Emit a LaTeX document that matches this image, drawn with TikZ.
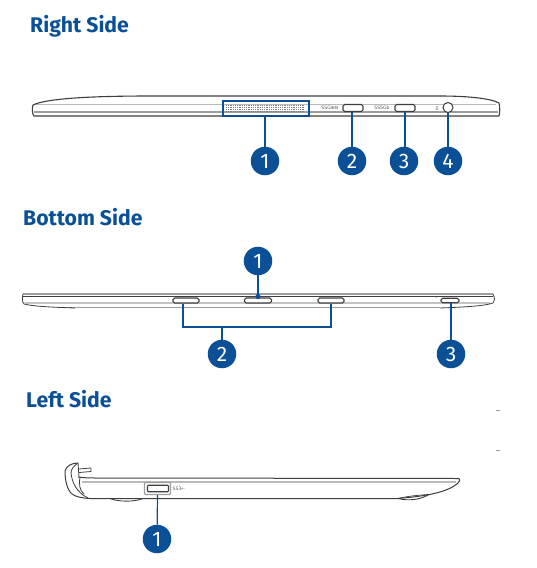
\documentclass[tikz,border=0pt]{standalone}
\usepackage{fontspec}
\setmainfont{Fira Sans}
\newfontfamily\symfont{DejaVu Sans}
\definecolor{asusblue}{HTML}{0B4F96}
\definecolor{bodyline}{HTML}{3E3E40}
\definecolor{softline}{HTML}{9C9DA0}
\tikzset{
  heading/.style={font=\fontsize{21.2}{24}\selectfont\bfseries, text=asusblue, anchor=base west, inner sep=0pt},
  badge/.style={circle, fill=asusblue, text=white, minimum size=28.5pt, inner sep=0pt, font=\fontsize{21}{24}\selectfont},
  lead/.style={draw=asusblue, line width=1.2pt},
  outline/.style={draw=bodyline, line width=1.1pt, line join=round},
  soft/.style={draw=softline, line width=1.2pt},
  port/.style={draw=bodyline, fill=white, rounded corners=1.6pt, line width=1.1pt, inner sep=0pt},
  tiny/.style={font=\symfont\fontsize{4.6}{5}\selectfont, text=black!65, inner sep=0pt},
}
\begin{document}
\begin{tikzpicture}[x=1pt,y=-1pt]
\useasboundingbox (0,0) rectangle (537,568);
% headings
\node[heading] (h1) at (30,32) {Right Side};
\node[heading] (h2) at (23,225.5) {Bottom Side};
\node[heading] (h3) at (26,407) {Left Side};

% --- Right side
\draw[soft, draw=softline!70] (36,104.5) -- (496,104.5);
\draw[soft] (34,112) -- (498,112);
\draw[outline] (34,116) .. controls (32,114) and (32,108) .. (33,105)
  .. controls (45,99) and (85,96) .. (150,96) -- (440,96)
  .. controls (465,96) and (490,98) .. (499,103)
  .. controls (500,107) and (500,112) .. (499,116) -- cycle;
\foreach \yy in {105.5,107.5,109.5,111.5}
  \draw[gray, line width=1.3pt, dash pattern=on 1pt off 0.8pt] (226,\yy) -- (305,\yy);
\node[draw=asusblue, line width=1.2pt, minimum width=86pt, minimum height=15pt, inner sep=0pt] (rspk) at (266,108.5) {};
\node[port, minimum width=20pt, minimum height=7pt] (rp2) at (353,108) {};
\node[port, minimum width=20pt, minimum height=7pt] (rp3) at (405,108) {};
\node[circle, draw=bodyline, fill=white, line width=1pt, minimum size=10pt, inner sep=0pt] (rjack) at (448,107.5) {};
\node[tiny] (t1) at (330,108) {SSG⊕⊟};
\node[tiny] (t2) at (382,108) {SS5Gb};
\node[tiny] (t3) at (437,108.5) {♁};
\node[badge] (r1) at (265,161) {1};
\node[badge] (r2) at (352,161) {2};
\node[badge] (r3) at (404,161) {3};
\node[badge] (r4) at (448,161) {4};
\draw[lead] (rspk.south -| r1) -- (r1);
\draw[lead] (rp2.south -| r2) -- (r2);
\draw[lead] (rp3.south) -- (rp3.south |- r3.north);
\draw[lead] (rjack) -- (r4);

% --- Bottom side
\draw[draw=softline, line width=1.4pt] (23,294) -- (493,294);
\draw[soft, draw=softline!60] (25,303) -- (490,303);
\draw[soft, line width=1.8pt] (60,307.5) -- (440,307.5);
\draw[outline] (23,296.5) -- (493,296.5);
\draw[outline, line width=0.8pt] (23,294) .. controls (22,298) and (22,302) .. (24,304)
  .. controls (32,306) and (45,307) .. (75,308);
\draw[outline, line width=0.8pt] (493,294) .. controls (495,298) and (495,301) .. (493,303)
  .. controls (485,306) and (465,307) .. (440,308);
\node[port, minimum width=26pt, minimum height=5pt] (bs1) at (186,300.5) {};
\node[port, minimum width=27pt, minimum height=5pt] (bs2) at (258,300.5) {};
\node[port, minimum width=26pt, minimum height=5pt] (bs3) at (331,300.5) {};
\node[port, minimum width=18pt, minimum height=4.5pt] (bs4) at (450,300.5) {};
\node[tiny, font=\symfont\fontsize{3}{3}\selectfont] (t4) at (436.5,298.5) {*};
\node[badge] (b1) at (258,261) {1};
\node[badge] (b2) at (222,354) {2};
\node[badge] (b3) at (451,354) {3};
\coordinate (bdot) at (258,296.5);
\coordinate (bl) at (183,327);
\coordinate (br) at (331,327);
\coordinate (bm) at (222,327);
\fill[asusblue] (bdot) circle (2.6pt);
\draw[lead] (b1) -- (bdot);
\draw[lead] (bl |- bs1.south) -- (bl) -- (br) -- (br |- bs3.south);
\draw[lead] (bm) -- (b2);
\draw[lead] (b3 |- bs4.south) -- (b3);

% --- Left side
\draw[soft, draw=softline!70] (82,482) -- (456,482);
\draw[outline, line width=1pt] (78,477) .. controls (85,478) and (90,478) .. (98,478)
  -- (459,478.5) .. controls (460,480) and (460,481) .. (458,483)
  .. controls (448,492) and (428,496) .. (398,498.5) -- (90,498.5);
\draw[outline, line width=0.9pt] (398,498.5) .. controls (408,501) and (420,500) .. (429,494.5);
\draw[outline, line width=0.7pt] (398,498.5) .. controls (408,496) and (420,495) .. (429,494.5);
\draw[outline, line width=0.9pt] (110,498.5) .. controls (118,502) and (135,502) .. (143,498.5);
% hinge
\draw[outline, line width=1pt] (78,463) .. controls (72,463) and (66,466) .. (65,471)
  .. controls (65,480) and (67,490) .. (72,494)
  .. controls (76,497) and (82,498) .. (90,498.5);
\draw[outline, line width=0.8pt] (78,463) .. controls (74,466) and (71,469) .. (71,473)
  .. controls (72,482) and (76,492) .. (88,498);
\draw[outline, line width=0.8pt] (80,477) .. controls (79,483) and (79,490) .. (84,494);
\draw[outline, line width=0.8pt] (78,463) -- (79,477);
\draw[outline, line width=0.8pt] (79,469) -- (91,468) -- (91,471.5) -- (79,472.5);
\node[draw=softline, fill=white, line width=1.1pt, minimum width=26pt, minimum height=12pt, rounded corners=1pt, inner sep=0pt] (lbox) at (157.5,488.5) {};
\node[port, minimum width=21pt, minimum height=6.5pt, rounded corners=0.8pt] (lp) at (158,488.5) {};
\node[tiny] (t5) at (179,488.5) {SS3⇠};
\node[badge] (l1) at (157,539) {1};
\draw[lead] (lbox.south) -- (l1);

% stray marks
\coordinate (m1) at (496,410.5);
\coordinate (m2) at (496,450.5);
\draw[softline, line width=0.7pt] (m1) -- ++(4,0);
\draw[softline, line width=0.7pt] (m2) -- ++(4,0);
\end{tikzpicture}
\end{document}
